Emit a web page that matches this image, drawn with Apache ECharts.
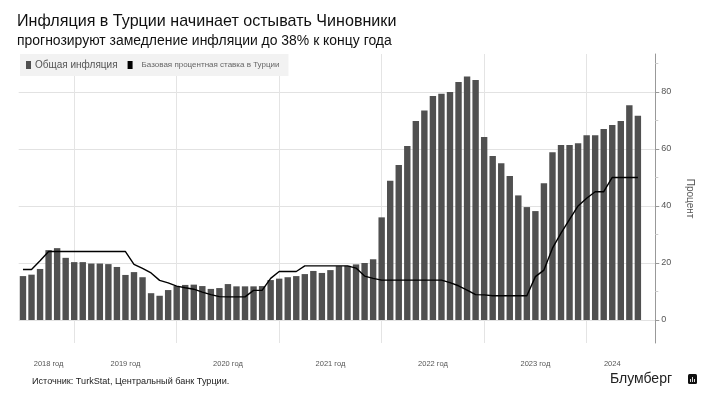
<!DOCTYPE html>
<html>
<head>
<meta charset="utf-8">
<style>
  html, body { margin: 0; padding: 0; background: #fff; }
  #chart { width: 708px; height: 395px; }
</style>
<script src="https://cdn.jsdelivr.net/npm/echarts@6/dist/echarts.min.js"></script>
</head>
<body>
<div id="chart"></div>
<script>
// Jan 2018 .. Jan 2024, one entry per month
const months = [
  '2018-01','2018-02','2018-03','2018-04','2018-05','2018-06','2018-07','2018-08','2018-09','2018-10','2018-11','2018-12',
  '2019-01','2019-02','2019-03','2019-04','2019-05','2019-06','2019-07','2019-08','2019-09','2019-10','2019-11','2019-12',
  '2020-01','2020-02','2020-03','2020-04','2020-05','2020-06','2020-07','2020-08','2020-09','2020-10','2020-11','2020-12',
  '2021-01','2021-02','2021-03','2021-04','2021-05','2021-06','2021-07','2021-08','2021-09','2021-10','2021-11','2021-12',
  '2022-01','2022-02','2022-03','2022-04','2022-05','2022-06','2022-07','2022-08','2022-09','2022-10','2022-11','2022-12',
  '2023-01','2023-02','2023-03','2023-04','2023-05','2023-06','2023-07','2023-08','2023-09','2023-10','2023-11','2023-12',
  '2024-01'
]
const inflation = [
  15.4,15.9,17.9,24.5,25.2,21.8,20.3,20.3,19.8,19.8,19.6,18.6,
  15.8,16.8,15.0,9.4,8.5,10.5,11.9,12.3,12.4,11.9,10.9,11.2,
  12.6,11.8,11.8,11.8,11.9,14.0,14.5,15.0,15.4,16.1,17.2,16.5,
  17.5,18.9,19.0,19.5,20.0,21.3,36.0,48.8,54.4,61.0,69.8,73.5,
  78.6,79.4,80.0,83.5,85.4,84.2,64.2,57.5,55.0,50.5,43.7,39.6,
  38.2,48.0,58.8,61.4,61.4,62.0,64.8,64.8,67.0,68.4,69.8,75.3,
  71.6
]
const policyRate = [
  17.7,17.7,20.8,24,24,24,24,24,24,24,24,24,
  24,19.5,18.1,16.5,13.9,13,11.9,11.3,10.8,9.8,8.9,8.2,
  8.1,8.1,8.1,10.4,10.4,14.6,17,17,17,19,19,19,
  19,19,19,18.2,15.4,14.6,14,14,14,14,14,14,
  14,14,13.1,12,10.5,8.9,8.8,8.5,8.5,8.5,8.5,8.5,
  15.2,17.5,25.2,30.5,35.3,40,42.7,45,45,50,50,50,
  50
]
const yearLabels = ['2018 год','2019 год','2020 год','2021 год','2022 год','2023 год','2024']
const yearLabelMonths = ['2018-04','2019-01','2020-01','2021-01','2022-01','2023-01','2023-10']
const gridMonths = ['2018-07','2019-07','2020-07','2021-07','2022-07','2023-07']
const valueTicks = [0, 20, 40, 60, 80]
const minorTicks = [10, 30, 50, 70, 90]

const chart = echarts.init(document.getElementById('chart'))
const FONT = '"Liberation Sans", Arial, sans-serif'
const yMin = -8.07
const yMax = 93.3

chart.setOption({
  animation: false,
  backgroundColor: '#fff',
  textStyle: { fontFamily: FONT },
  title: {
    left: 17,
    top: 14,
    padding: 0,
    itemGap: 4,
    text: 'Инфляция в Турции начинает остывать Чиновники',
    textStyle: { fontSize: 16.1, fontWeight: 'normal', color: '#111', fontFamily: FONT },
    subtext: 'прогнозируют замедление инфляции до 38% к концу года',
    subtextStyle: { fontSize: 13.95, color: '#111', fontFamily: FONT }
  },
  legend: {
    left: 20,
    top: 54,
    width: 270,
    height: 21,
    padding: [6, 9, 6, 6],
    itemGap: 10,
    itemWidth: 5,
    itemHeight: 8,
    backgroundColor: '#f2f2f2',
    icon: 'rect',
    data: ['Общая инфляция', 'Базовая процентная ставка в Турции'],
    formatter: name => name === 'Общая инфляция' ? `{big|${name}}` : `{small|${name}}`,
    textStyle: {
      rich: {
        big: { fontSize: 10, color: '#555', fontFamily: FONT, padding: [0, 0, 0, -1] },
        small: { fontSize: 8, color: '#666', fontFamily: FONT, padding: [0, 0, 0, 4] }
      }
    }
  },
  grid: { left: 18.7, right: 52.7, top: 54, bottom: 52 },
  xAxis: {
    type: 'value',
    min: -0.5,
    max: 74.04,
    axisLine: { show: false },
    axisTick: { show: false, customValues: gridMonths.map(m => months.indexOf(m)) },
    splitLine: { show: true, lineStyle: { color: '#e4e4e4', width: 1 } },
    axisLabel: {
      customValues: yearLabelMonths.map(m => months.indexOf(m)),
      formatter: v => yearLabels[yearLabelMonths.indexOf(months[v])],
      margin: 17,
      fontSize: 7.5,
      color: '#555'
    }
  },
  yAxis: [
    {
      type: 'value',
      position: 'right',
      min: yMin,
      max: yMax,
      name: 'Процент',
      nameLocation: 'middle',
      nameRotate: -90,
      nameGap: 29,
      nameTextStyle: { fontSize: 10, color: '#555' },
      axisLine: { show: true, onZero: false, lineStyle: { color: '#999', width: 1 } },
      axisTick: { show: true, length: 4, customValues: valueTicks, lineStyle: { color: '#999' } },
      splitLine: { show: true, lineStyle: { color: '#e2e2e2', width: 1 } },
      axisLabel: { customValues: valueTicks, margin: 6, fontSize: 9, color: '#555' }
    },
    {
      type: 'value',
      position: 'right',
      min: yMin,
      max: yMax,
      axisLine: { show: false, onZero: false },
      axisTick: { show: true, length: 3, customValues: minorTicks, lineStyle: { color: '#ccc' } },
      splitLine: { show: false },
      axisLabel: { show: false }
    }
  ],
  series: [
    {
      name: 'Общая инфляция',
      type: 'bar',
      barWidth: 6.4,
      itemStyle: { color: '#505050' },
      data: inflation.map((v, i) => [i, v])
    },
    {
      name: 'Базовая процентная ставка в Турции',
      type: 'line',
      symbol: 'none',
      z: 3,
      itemStyle: { color: '#000' },
      lineStyle: { color: '#000', width: 1.4 },
      data: policyRate.map((v, i) => [i, v])
    }
  ],
  graphic: [
    { type: 'text', left: 32, top: 377, style: { text: 'Источник: TurkStat, Центральный банк Турции.', font: `9.1px ${FONT}`, fill: '#222' } },
    { type: 'text', left: 610, top: 372, style: { text: 'Блумберг', font: `14px ${FONT}`, fill: '#222' } },
    { type: 'rect', left: 688, top: 374, shape: { width: 9, height: 10, r: 1.5 }, style: { fill: '#111' } },
    { type: 'rect', left: 690, top: 379, shape: { width: 1, height: 3 }, style: { fill: '#ddd' } },
    { type: 'rect', left: 692, top: 377, shape: { width: 1, height: 5 }, style: { fill: '#ddd' } },
    { type: 'rect', left: 694, top: 379, shape: { width: 1, height: 3 }, style: { fill: '#ddd' } }
  ]
})
</script>
</body>
</html>
